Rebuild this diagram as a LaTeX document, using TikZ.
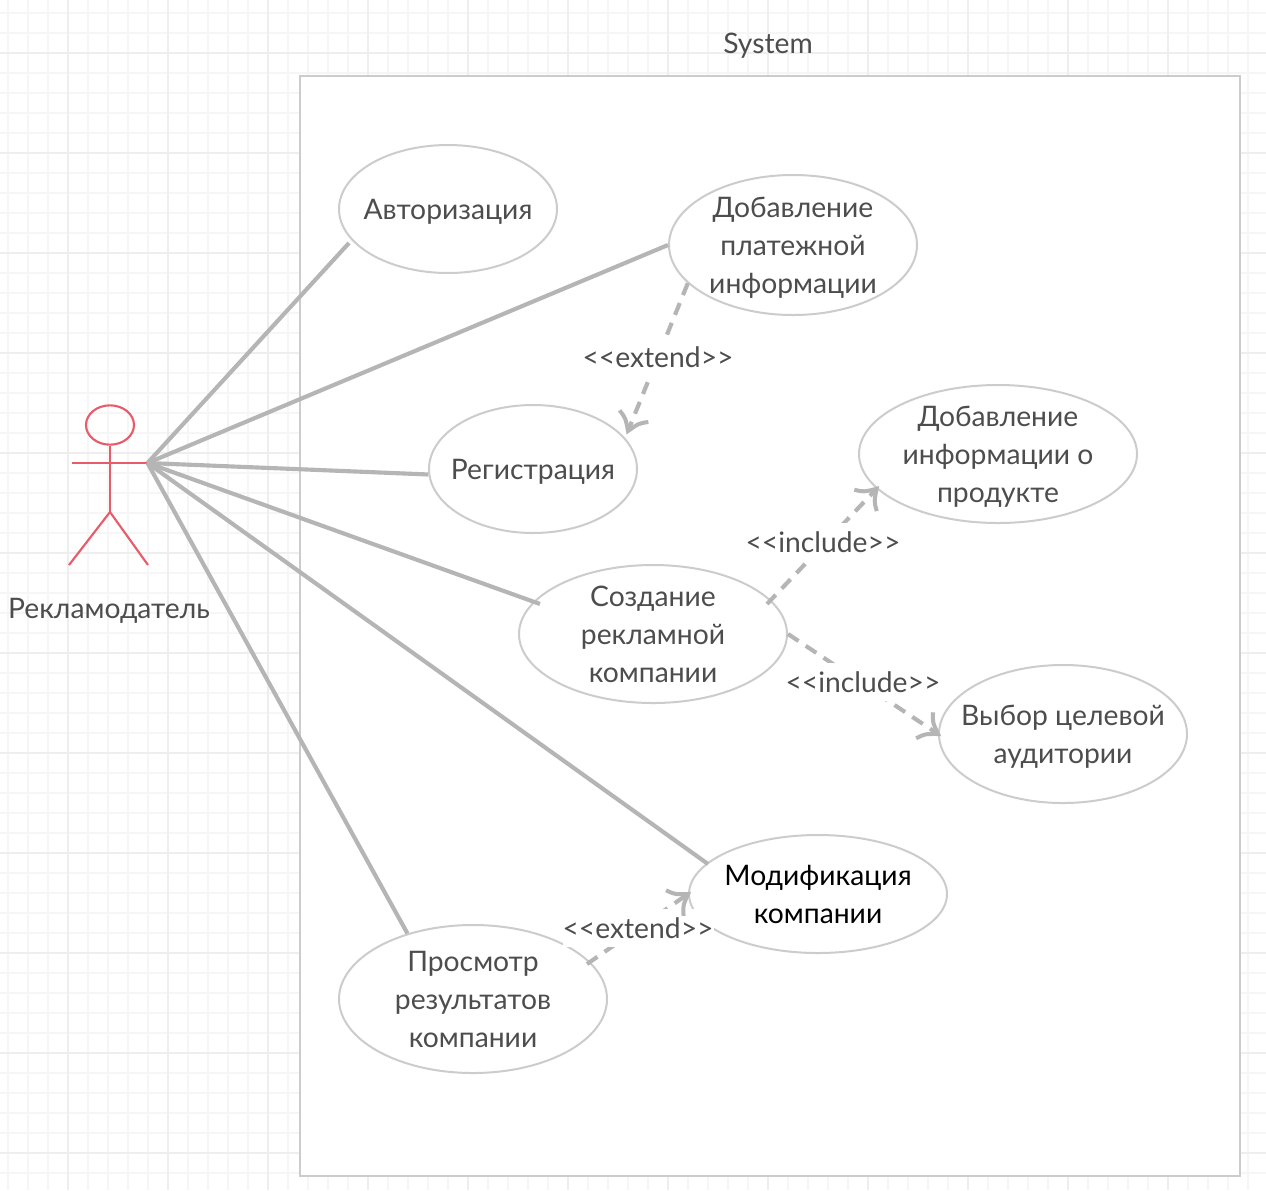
\documentclass[tikz,border=0pt]{standalone}
\usepackage{fontspec}
\setmainfont{Lato}
\usetikzlibrary{shapes.geometric,calc}
\definecolor{txt}{HTML}{4D4D4D}
\definecolor{edgec}{HTML}{B5B5B5}
\definecolor{strokec}{HTML}{CCCCCC}
\definecolor{actorc}{HTML}{E85C6A}
\definecolor{gridminor}{HTML}{F6F6F6}
\definecolor{gridmajor}{HTML}{EEEEEE}
\newcommand{\ucfont}{\fontsize{21.2pt}{28.5pt}\selectfont}
\newcommand{\uctext}[1]{\smash{\raisebox{-7.2pt}{\makebox[0pt][c]{\begin{tabular}[c]{@{}c@{}}#1\end{tabular}}}}}
\tikzset{
  x=0.75pt,y=-0.75pt,
  usecase/.style={ellipse,draw=strokec,line width=1.5pt,fill=white,inner sep=0pt,text=txt,font=\ucfont},
  plain label/.style={text=txt,font=\ucfont,inner sep=0pt},
  assoc/.style={draw=edgec,line width=3.1pt},
  depend/.style={draw=edgec,line width=3.1pt,dash pattern=on 9.5pt off 6.5pt},
  deplabel/.style={fill=white,text=txt,font=\ucfont,inner xsep=0pt,inner ysep=0pt,minimum height=29pt},
  actorline/.style={draw=actorc,line width=1.6pt},
  barbhead/.pic={
    \draw[edgec,line width=3pt,line cap=butt]
      (-16,-15.5) .. controls (-11,-7) .. (0,0)
      .. controls (-11,7) .. (-16,15.5);
  },
}
\begin{document}
\begin{tikzpicture}
\useasboundingbox (0,0) rectangle (1266,1190);
% page grid
\foreach \gx in {8,28,...,1268}{\draw[gridminor,line width=1.1pt] (\gx,0) -- (\gx,1190);}
\foreach \gy in {13,33,...,1193}{\draw[gridminor,line width=1.1pt] (0,\gy) -- (1266,\gy);}
\foreach \gx in {68,168,...,1268}{\draw[gridmajor,line width=1.1pt] (\gx,0) -- (\gx,1190);}
\foreach \gy in {53,153,...,1193}{\draw[gridmajor,line width=1.1pt] (0,\gy) -- (1266,\gy);}
% system frame
\draw[draw=strokec,line width=1.5pt,fill=white] (300,76) rectangle (1240,1176);
\node[plain label] (systitle) at (768,46) {System};
% actor
\node[ellipse,actorline,minimum width=36pt,minimum height=29.5pt,inner sep=0pt] (head) at (110,425) {};
\coordinate (hip) at (110,512);
\coordinate (handL) at (72,463);
\coordinate (hand) at (147.5,463);
\coordinate (footL) at (69,565);
\coordinate (footR) at (148,565);
\draw[actorline] (head.south) -- (hip);
\draw[actorline] (handL) -- (hand);
\draw[actorline] (footL) -- (hip) -- (footR);
\node[plain label] (actorname) at (109,611) {Рекламодатель};
% use cases
\node[usecase,minimum width=163.5pt,minimum height=96pt] (auth) at (448,209) {\uctext{Авторизация}};
\node[usecase,minimum width=186pt,minimum height=105pt] (pay) at (793,245) {\uctext{Добавление\\платежной\\информации}};
\node[usecase,minimum width=156pt,minimum height=96pt] (reg) at (533,469) {\uctext{Регистрация}};
\node[usecase,minimum width=208.5pt,minimum height=103.5pt] (prod) at (998,454) {\uctext{Добавление\\информации о\\продукте}};
\node[usecase,minimum width=201pt,minimum height=103.5pt] (camp) at (653,634) {\uctext{Создание\\рекламной\\компании}};
\node[usecase,minimum width=186pt,minimum height=103.5pt] (aud) at (1063,734) {\uctext{Выбор целевой\\аудитории}};
\node[usecase,minimum width=193.5pt,minimum height=88.5pt,text=black] (mod) at (818,894) {\uctext{Модификация\\компании}};
\node[usecase,minimum width=201pt,minimum height=111pt] (view) at (473,999) {\uctext{Просмотр\\результатов\\компании}};
% line ends that sit just off the ellipse outlines
\coordinate (authIn) at (349,243);
\coordinate (campIn) at (540,604);
\coordinate (campOut) at (767,604);
\coordinate (modIn) at (708,864);
\coordinate (regEnd) at (628,431);
\coordinate (viewOut) at (587,964);
% associations
\draw[assoc] (hand) -- (authIn);
\draw[assoc] (hand) -- (pay.180);
\draw[assoc] (hand) -- (reg.183);
\draw[assoc] (hand) -- (campIn);
\draw[assoc] (hand) -- (modIn);
\draw[assoc] (hand) -- (view.135);
% dependencies: dashes, then label mask, then arrow head on top
\draw[depend] (pay.200) -- (regEnd);
\draw[depend] (campOut) -- (prod.196);
\draw[depend] (camp.0) -- (aud.180);
\draw[depend] (viewOut) -- (mod.180);
\node[deplabel] (l1) at (658,357) {<{}<extend>{}>};
\node[deplabel] (l2) at (823,542) {<{}<include>{}>};
\node[deplabel] (l3) at (863,682) {<{}<include>{}>};
\node[deplabel] (l4) at (638,928) {<{}<extend>{}>};
\pic[rotate=248] at (regEnd) {barbhead};
\pic[rotate=46.5] at (prod.196) {barbhead};
\pic[rotate=-33] at (aud.180) {barbhead};
\pic[rotate=34.5] at (mod.180) {barbhead};
\end{tikzpicture}
\end{document}
